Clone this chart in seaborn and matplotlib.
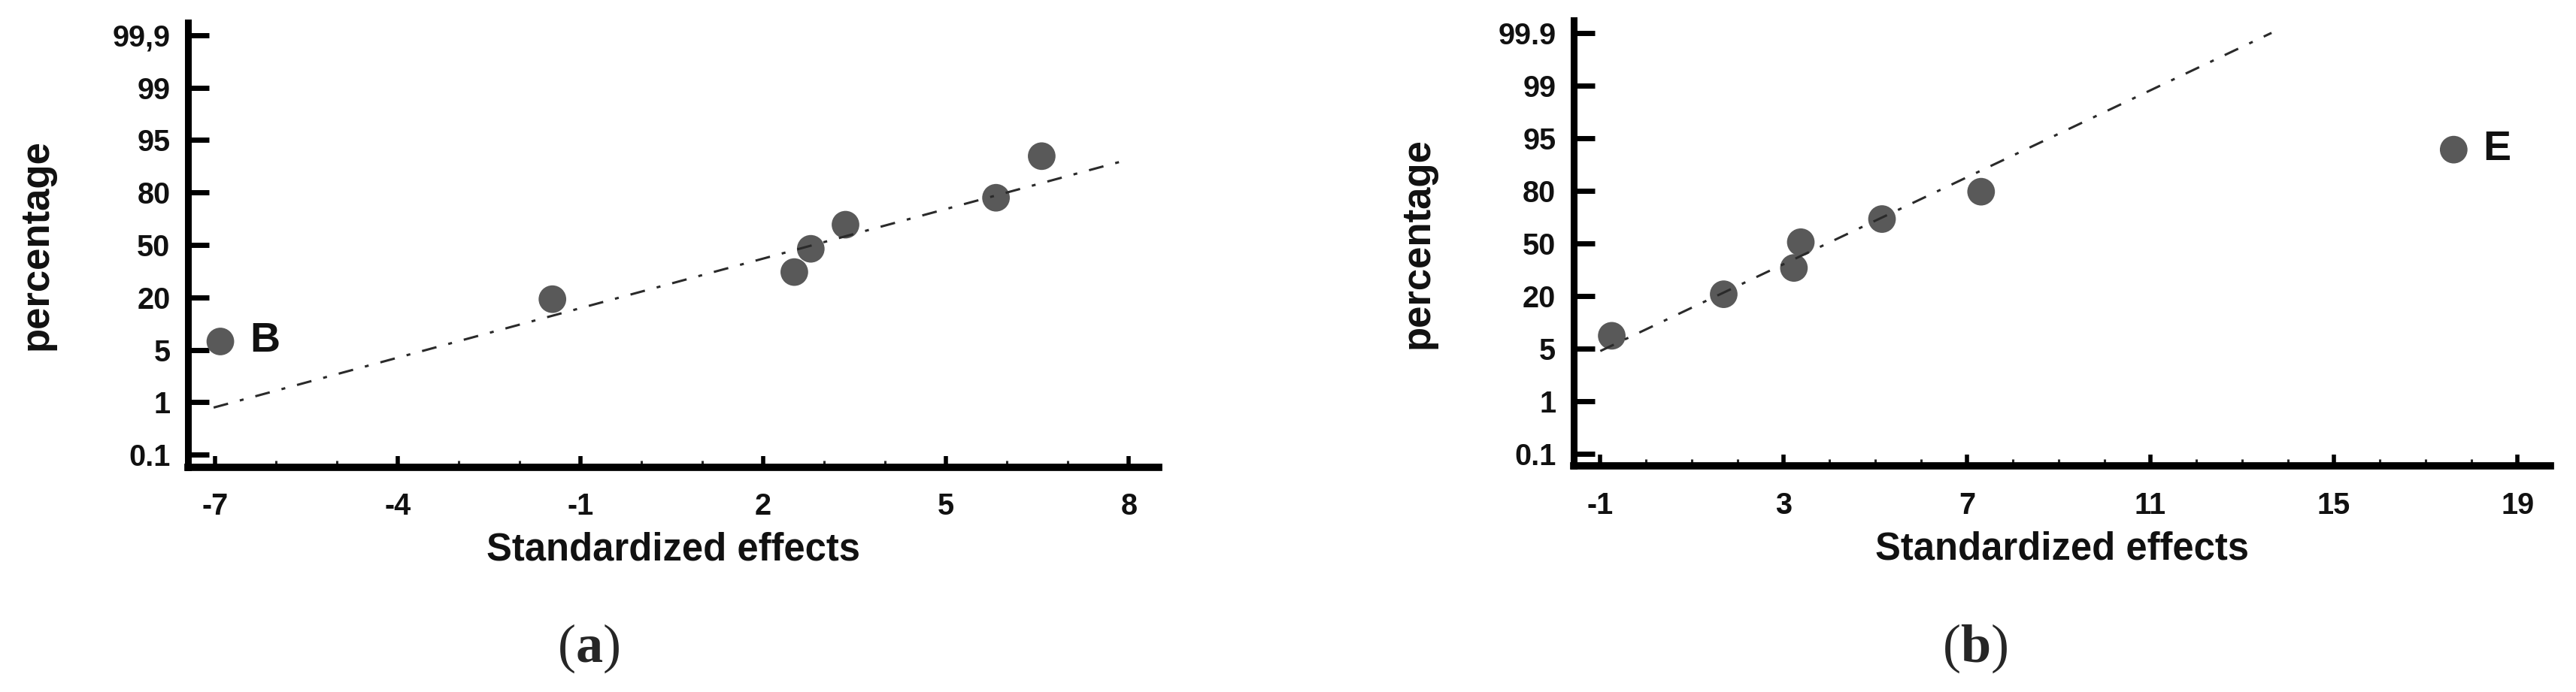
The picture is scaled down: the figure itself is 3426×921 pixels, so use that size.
import numpy as np
import pandas as pd
import seaborn as sns
import matplotlib
matplotlib.use("Agg")
import matplotlib.pyplot as plt
from matplotlib.ticker import MultipleLocator

# probability axis ticks (evenly spaced on the chart)
pct_ticks = [0.1, 1, 5, 20, 50, 80, 95, 99, 99.9]
labels_a = ["0.1", "1", "5", "20", "50", "80", "95", "99", "99,9"]
labels_b = ["0.1", "1", "5", "20", "50", "80", "95", "99", "99.9"]

# panel (a)
a_effects = [-6.91, -1.46, 2.51, 2.78, 3.35, 5.82, 6.57]
a_pct = [7.4, 19.5, 34.5, 47.8, 61.6, 77.0, 90.4]
a_fit_x = [-7.02, 7.84]
a_fit_pct = [0.91, 88.7]

# panel (b)
b_effects = [-0.74, 1.70, 3.23, 3.38, 5.15, 7.31, 17.61]
b_pct = [8.6, 20.9, 35.9, 50.6, 63.8, 79.4, 91.7]
b_fit_x = [-0.99, 13.64]
b_fit_pct = [4.8, 99.9]

tick_pos = np.arange(len(pct_ticks), dtype=float)
tv = np.array(pct_ticks, dtype=float)


def to_pos(p):
    p = np.asarray(p, dtype=float)
    out = np.interp(p, tv, tick_pos)
    lo = (p - tv[0]) / (tv[1] - tv[0])
    hi = tick_pos[-1] + (p - tv[-1]) / (tv[-1] - tv[-2])
    out = np.where(p < tv[0], lo, out)
    return np.where(p > tv[-1], hi, out)


def to_pct(q):
    q = np.asarray(q, dtype=float)
    out = np.interp(q, tick_pos, tv)
    lo = tv[0] + q * (tv[1] - tv[0])
    hi = tv[-1] + (q - tick_pos[-1]) * (tv[-1] - tv[-2])
    out = np.where(q < 0, lo, out)
    return np.where(q > tick_pos[-1], hi, out)


sns.set_style("ticks")
plt.rcParams["font.family"] = ["Liberation Sans", "DejaVu Sans"]
plt.rcParams["axes.unicode_minus"] = False
plt.rcParams["mathtext.fontset"] = "custom"
plt.rcParams["mathtext.rm"] = "Liberation Serif"
plt.rcParams["mathtext.bf"] = "Liberation Serif:bold"

fig = plt.figure(figsize=(34.26, 9.21), dpi=100)
ax_a = fig.add_axes([0.0730, 0.3246, 0.3768, 0.6428])
ax_b = fig.add_axes([0.6109, 0.3263, 0.3792, 0.6444])

panels = [
    (ax_a, a_effects, a_pct, a_fit_x, a_fit_pct, labels_a, range(-7, 9, 3), (-7.44, 8.49), 0, "B", -0.137),
    (ax_b, b_effects, b_pct, b_fit_x, b_fit_pct, labels_b, range(-1, 20, 4), (-1.57, 19.72), -1, "E", -0.140),
]

for ax, xs, ys, fx, fy, ylabels, xticks, xlim, lab_idx, lab, ylab_x in panels:
    ax.set_yscale("function", functions=(to_pos, to_pct))
    df = pd.DataFrame({"effect": xs, "pct": ys})
    fit = pd.DataFrame({"effect": fx, "pct": fy})

    sns.scatterplot(data=df, x="effect", y="pct", s=700, color="#595959",
                    edgecolor="none", ax=ax, zorder=3)
    sns.lineplot(data=fit, x="effect", y="pct", color="#2a2a2a", linewidth=2.2,
                 linestyle=(0, (6.5, 5.3, 1.7, 5.3)), sort=False, ax=ax, zorder=4)

    ax.annotate(lab, (xs[lab_idx], ys[lab_idx]), xytext=(28, 0), textcoords="offset points",
                ha="left", va="center", fontsize=40, fontweight="bold", color="#111111")

    ax.set_xlim(*xlim)
    ax.set_ylim(float(to_pct(-0.24)), float(to_pct(8.24)))
    ax.set_yticks(pct_ticks)
    ax.set_yticklabels(ylabels)
    ax.yaxis.set_minor_locator(plt.NullLocator())
    ax.set_xticks(list(xticks))
    ax.xaxis.set_minor_locator(MultipleLocator(1))

    for side in ["top", "right"]:
        ax.spines[side].set_visible(False)
    ax.spines["left"].set_linewidth(6.5)
    ax.spines["bottom"].set_linewidth(7)
    ax.spines["left"].set_color("black")
    ax.spines["bottom"].set_color("black")

    ax.tick_params(axis="y", direction="in", length=20, width=5, pad=17,
                   labelsize=28.5, colors="black")
    ax.tick_params(axis="x", which="major", direction="in", length=11, width=4, pad=24,
                   labelsize=28.5, colors="black")
    ax.tick_params(axis="x", which="minor", direction="in", length=6.5, width=2.2)
    for t in ax.get_xticklabels() + ax.get_yticklabels():
        t.set_fontweight("bold")
        t.set_color("#111111")

    ax.set_xlabel("Standardized effects", fontsize=36.5, fontweight="bold", color="#111111")
    ax.set_ylabel("percentage", fontsize=38, fontweight="bold", color="#111111")
    ax.xaxis.set_label_coords(0.5, -0.145)
    ax.yaxis.set_label_coords(ylab_x, 0.5)
    if ax.get_legend() is not None:
        ax.get_legend().remove()

fig.text(0.2285, 0.063, r"($\mathbf{a}$)", ha="center", va="center", fontsize=52,
         family="Liberation Serif")
fig.text(0.7668, 0.063, r"($\mathbf{b}$)", ha="center", va="center", fontsize=52,
         family="Liberation Serif")

fig.savefig("out.png", dpi=100, facecolor="white")
plt.close(fig)
